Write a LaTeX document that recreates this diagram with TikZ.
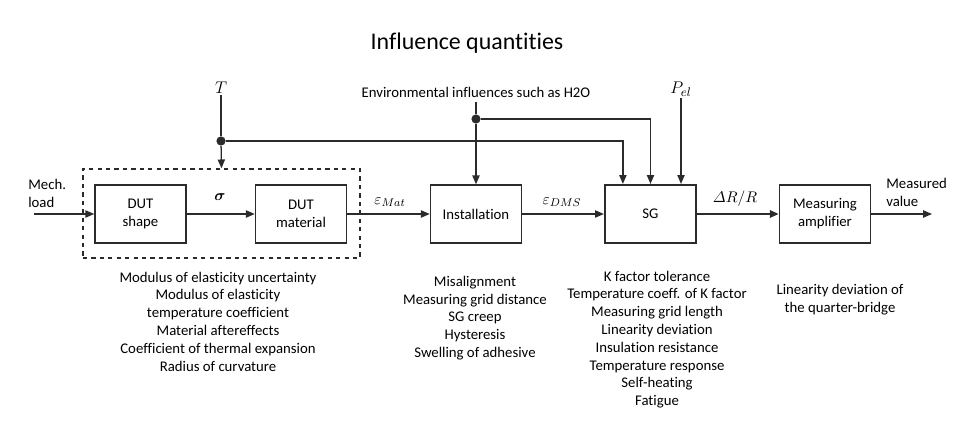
\documentclass[tikz,border=0pt]{standalone}
\usepackage{fontspec}
\usepackage{amsmath}
\setmainfont[Ligatures=NoCommon]{Carlito}
\usetikzlibrary{arrows.meta}
\definecolor{ink}{HTML}{2B2B2B}
\tikzset{
  block/.style={draw=ink, line width=1pt, minimum width=2.275cm, minimum height=1.45cm, inner sep=0pt, align=center, font=\fontsize{10.5}{12.7}\selectfont},
  flow/.style={draw=ink, line width=0.9pt, -{Triangle[length=2.2mm,width=1.8mm]}},
  wire/.style={draw=ink, line width=0.9pt},
  junction/.style={circle, fill=ink, inner sep=0pt, minimum size=2.3mm},
  factors/.style={align=center, inner sep=0pt, font=\fontsize{10.5}{12.66}\selectfont},
  qty/.style={inner sep=1pt, font=\fontsize{11}{13}\selectfont},
}
\begin{document}
\begin{tikzpicture}[x=0.025cm,y=-0.025cm]
\useasboundingbox (0,0) rectangle (960,438);
\node[font=\fontsize{17}{20}\selectfont] (title) at (467,43) {Influence quantities};

% chain of blocks
\node[block] (shape) at (140.5,214) {DUT\\shape};
\node[block] (material) at (301,214) {DUT\\material};
\node[draw=ink, dashed, line width=1pt, minimum width=6.925cm, minimum height=2.225cm, inner sep=0pt] (dut) at (221.5,213.5) {};
\node[block] (install) at (476,214) {Installation};
\node[block, line width=1.5pt] (sg) at (650.5,214) {SG};
\node[block] (amp) at (825,214) {Measuring\\amplifier};

\node[align=left, anchor=west, inner sep=0pt, font=\fontsize{10.5}{12.7}\selectfont] (load) at (28,193.5) {Mech.\\load};
\node[align=left, anchor=west, inner sep=0pt, font=\fontsize{10.5}{12.7}\selectfont] (result) at (886,192.5) {Measured\\value};
\coordinate (in) at (34,214);
\coordinate (out) at (932,214);

\draw[flow] (in) -- (shape.west);
\draw[flow] (shape) -- (material);
\draw[flow] (material) -- (install);
\draw[flow] (install) -- (sg);
\draw[flow, line width=1.5pt] (sg) -- (amp);
\draw[flow] (amp) -- (out);

\node[qty] (sigma) at (220,197) {$\boldsymbol{\sigma}$};
\node[qty] (emat) at (390,202) {$\varepsilon_{Mat}$};
\node[qty] (edms) at (562,202) {$\varepsilon_{DMS}$};
\node[qty] (dr) at (735,199) {$\varDelta R/R$};

% influences from above
\node[qty, font=\fontsize{13}{15}\selectfont] (T) at (221,88) {$T$};
\node[font=\fontsize{10.5}{12.7}\selectfont] (env) at (476,92) {Environmental influences such as H2O};
\node[qty, font=\fontsize{13}{15}\selectfont] (pel) at (681,89) {$P_{el}$};
\node[junction] (tdot) at (221,141) {};
\node[junction] (edot) at (476,119) {};

\draw[wire] (T) -- (tdot);
\draw[flow] (tdot) -- (dut.north);
\draw[flow] (tdot) -| ([xshift=-0.69cm]sg.north);
\draw[wire] (env) -- (edot);
\draw[flow] (edot) -- (install.north);
\draw[flow] (edot) -| (sg.north);
\draw[flow] (pel) -- (pel |- sg.north);

% influence quantities per block
\node[factors] (dutlist) at (218,321.5) {Modulus of elasticity uncertainty\\Modulus of elasticity\\temperature coefficient\\Material aftereffects\\Coefficient of thermal expansion\\Radius of curvature};
\node[factors] (instlist) at (475,318) {Misalignment\\Measuring grid distance\\SG creep\\Hysteresis\\Swelling of adhesive};
\node[factors] (sglist) at (657,339.5) {K factor tolerance\\Temperature coeff. of K factor\\Measuring grid length\\Linearity deviation\\Insulation resistance\\Temperature response\\Self-heating\\Fatigue};
\node[factors] (amplist) at (840,300) {Linearity deviation of\\the quarter-bridge};
\end{tikzpicture}
\end{document}
